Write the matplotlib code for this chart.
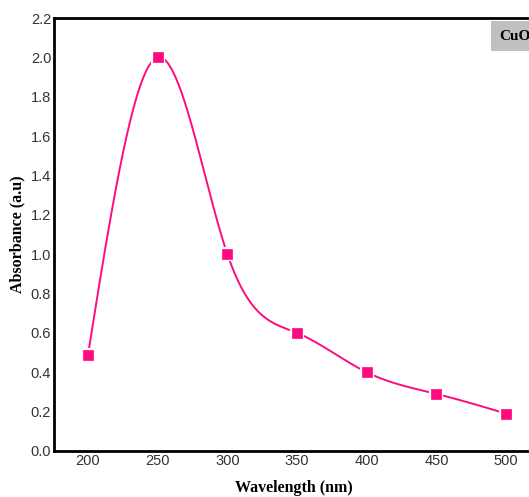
import matplotlib.pyplot as plt
import numpy as np

# data
wavelength = [200, 250, 300, 350, 400, 450, 500]
absorbance = [0.49, 2.0, 1.0, 0.6, 0.4, 0.29, 0.19]
y_ticks = [0.0, 0.2, 0.4, 0.6, 0.8, 1.0, 1.2, 1.4, 1.6, 1.8, 2.0, 2.2]
x_ticks = [200, 250, 300, 350, 400, 450, 500]
pink = "#ff0a7f"


def natural_spline(x, y, n=400):
    # natural cubic spline through the measured points (line shape only)
    x = np.asarray(x, float)
    y = np.asarray(y, float)
    h = np.diff(x)
    k = len(x)
    A = np.zeros((k, k))
    b = np.zeros(k)
    A[0, 0] = A[-1, -1] = 1
    for i in range(1, k - 1):
        A[i, i - 1] = h[i - 1]
        A[i, i] = 2 * (h[i - 1] + h[i])
        A[i, i + 1] = h[i]
        b[i] = 6 * ((y[i + 1] - y[i]) / h[i] - (y[i] - y[i - 1]) / h[i - 1])
    m = np.linalg.solve(A, b)
    xs = np.linspace(x[0], x[-1], n)
    idx = np.clip(np.searchsorted(x, xs) - 1, 0, k - 2)
    x0, x1 = x[idx], x[idx + 1]
    hh = x1 - x0
    t0, t1 = x1 - xs, xs - x0
    ys = (m[idx] * t0 ** 3 + m[idx + 1] * t1 ** 3) / (6 * hh) \
        + (y[idx] / hh - m[idx] * hh / 6) * t0 \
        + (y[idx + 1] / hh - m[idx + 1] * hh / 6) * t1
    return xs, ys


fig = plt.figure(figsize=(5.29, 4.97), dpi=100)
ax = fig.add_axes([54 / 529, 46 / 497, 480 / 529, 433 / 497])

xs, ys = natural_spline(wavelength, absorbance)
ax.plot(xs, ys, color=pink, linewidth=1.4, zorder=2)
# white edge leaves the small gap between curve and marker
ax.plot(wavelength, absorbance, linestyle="none", marker="s", markersize=6.5,
        markerfacecolor=pink, markeredgecolor="white", markeredgewidth=3, zorder=3)
ax.plot(wavelength, absorbance, linestyle="none", marker="s", markersize=6.5,
        markerfacecolor=pink, markeredgecolor=pink, markeredgewidth=0.5, zorder=4)

ax.set_xlim(175.6, 520)
ax.set_ylim(0, 2.2)
ax.set_xticks(x_ticks)
ax.set_yticks(y_ticks)
ax.set_yticklabels([f"{v:.1f}" for v in y_ticks])
ax.tick_params(length=0, labelsize=10.5, labelcolor="#333333", pad=2)
for lab in ax.get_xticklabels() + ax.get_yticklabels():
    lab.set_family("Liberation Sans")

for side in ["left", "bottom", "top"]:
    ax.spines[side].set_linewidth(2)
    ax.spines[side].set_color("black")
ax.spines["right"].set_visible(False)

ax.set_xlabel("Wavelength (nm)", family="Liberation Serif", fontweight="bold",
              fontsize=11.5, labelpad=9)
ax.set_ylabel("Absorbance (a.u)", family="Liberation Serif", fontweight="bold",
              fontsize=11.5, labelpad=4)

fig.text(499 / 529, 1 - 36 / 497, "CuO", family="Liberation Serif", fontweight="bold",
         fontsize=11, va="center", ha="left",
         bbox=dict(boxstyle="square,pad=0.55", facecolor="#c0c0c0", edgecolor="none"))

fig.savefig("out.png", dpi=100)
